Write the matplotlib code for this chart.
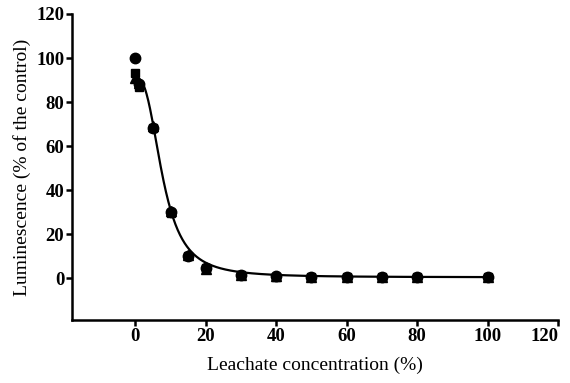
import numpy as np
import matplotlib
matplotlib.use("Agg")
import matplotlib.pyplot as plt

# Data (three replicate series)
conc = [0, 1, 5, 10, 15, 20, 30, 40, 50, 60, 70, 80, 100]
rep_circle = [100, 88, 68, 30, 10, 4.5, 1.5, 0.8, 0.4, 0.4, 0.4, 0.4, 0.4]
rep_square = [93, 87, 68, 29.5, 10, 4.5, 1.3, 0.7, 0.4, 0.4, 0.4, 0.4, 0.4]
rep_triangle = [91, 88.5, 69, 30.5, 10.5, 4.2, 1.5, 0.8, 0.5, 0.5, 0.5, 0.5, 0.5]

# fitted dose-response (4-parameter logistic) parameters
fit_top, fit_bottom, fit_ec50, fit_hill = 91.0, 0.4, 7.8, 2.7

xticks = [0, 20, 40, 60, 80, 100, 120]
yticks = [0, 20, 40, 60, 80, 100, 120]

plt.rcParams['font.family'] = ['Liberation Serif', 'DejaVu Serif']

fig = plt.figure(figsize=(5.70, 3.83), dpi=100)
ax = fig.add_axes([0.1263, 0.1645, 0.8527, 0.799])

xs = np.linspace(0, 100, 600)
ys = fit_bottom + (fit_top - fit_bottom) / (1 + (xs / fit_ec50) ** fit_hill)
ax.plot(xs, ys, color='black', lw=1.6, zorder=2)

ms = 7.5
ax.plot(conc, rep_triangle, linestyle='none', marker='^', color='black', ms=ms - 1, zorder=3)
ax.plot(conc, rep_square, linestyle='none', marker='s', color='black', ms=ms - 1.5, zorder=3)
ax.plot(conc, rep_circle, linestyle='none', marker='o', color='black', ms=ms, zorder=3)

ax.set_xlim(-18, 120)
ax.set_ylim(-19, 120)
ax.set_xticks(xticks)
ax.set_yticks(yticks)
xl = ax.set_xticklabels([str(t) for t in xticks], fontweight='bold', fontsize=13.5)
ax.set_yticklabels([str(t) for t in yticks], fontweight='bold', fontsize=13.5)
xl[-1].set_horizontalalignment('right')

for s in ['top', 'right']:
    ax.spines[s].set_visible(False)
for s in ['left', 'bottom']:
    ax.spines[s].set_linewidth(1.8)
ax.tick_params(direction='out', length=4.5, width=1.8, pad=1)

ax.set_xlabel('Leachate concentration (%)', fontsize=14, labelpad=9)
ax.set_ylabel('Luminescence (% of the control)', fontsize=14, labelpad=4)

fig.savefig('out.png', dpi=100)
